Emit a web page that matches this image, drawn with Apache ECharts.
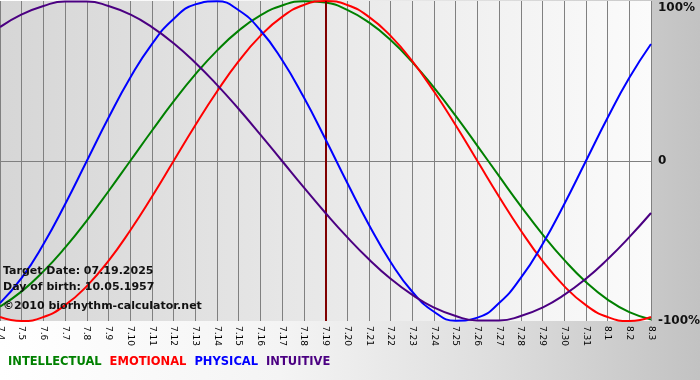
<!DOCTYPE html>
<html>
<head>
<meta charset="utf-8">
<script src="https://cdn.jsdelivr.net/npm/echarts@6/dist/echarts.min.js"></script>
<style>
html,body{margin:0;padding:0;}
#chart{width:700px;height:380px;background:linear-gradient(to right,#ffffff 0%,#f4f4f4 40%,#dedede 70%,#c2c2c2 100%);}
</style>
</head>
<body>
<div id="chart"></div>
<script>
var days = ['7.4','7.5','7.6','7.7','7.8','7.9','7.10','7.11','7.12','7.13','7.14','7.15','7.16','7.17','7.18','7.19','7.20','7.21','7.22','7.23','7.24','7.25','7.26','7.27','7.28','7.29','7.30','7.31','8.1','8.2','8.3'];
var intellectual = [-91.0,-81.5,-69.0,-54.1,-37.2,-18.9,0,18.9,37.2,54.1,69.0,81.5,91.0,97.2,99.9,99.0,94.5,86.6,75.6,61.8,45.8,28.2,9.5,-9.5,-28.2,-45.8,-61.8,-75.6,-86.6,-94.5,-99.0];
var emotional = [-97.5,-100,-97.5,-90.1,-78.2,-62.4,-43.4,-22.3,0,22.3,43.4,62.4,78.2,90.1,97.5,100,97.5,90.1,78.2,62.4,43.4,22.3,0,-22.3,-43.4,-62.4,-78.2,-90.1,-97.5,-100,-97.5];
var physical = [-88.8,-73.1,-52.0,-27.0,0,27.0,52.0,73.1,88.8,97.9,99.8,94.2,81.7,63.1,39.8,13.6,-13.6,-39.8,-63.1,-81.7,-94.2,-99.8,-97.9,-88.8,-73.1,-52.0,-27.0,0,27.0,52.0,73.1];
var intuitive = [83.7,91.6,96.9,99.7,99.7,96.9,91.6,83.7,73.6,61.4,47.6,32.5,16.5,0,-16.5,-32.5,-47.6,-61.4,-73.6,-83.7,-91.6,-96.9,-99.7,-99.7,-96.9,-91.6,-83.7,-73.6,-61.4,-47.6,-32.5];
var targetDay = '7.19';
var yTicks = {'100':'{top|100%}','0':'0','-100':'-100%'};
var names = ['INTELLECTUAL','EMOTIONAL','PHYSICAL','INTUITIVE'];
var colors = ['#008000','#ff0000','#0000ff','#4b0082'];
var infoLines = ['Target Date: 07.19.2025','Day of birth: 10.05.1957','©2010 biorhythm-calculator.net'];

var FONT = '"DejaVu Sans", Verdana, sans-serif';
var chart = echarts.init(document.getElementById('chart'), null, {renderer:'canvas'});
var seriesData = [intellectual, emotional, physical, intuitive];
var series = names.map(function(n, i){
  var s = {
    name: n, type: 'line', data: seriesData[i], smooth: 0.5, symbol: 'none',
    lineStyle: {color: colors[i], width: 2}, itemStyle: {color: colors[i]},
    z: 3 + i
  };
  if (i === 0) {
    s.markLine = {
      silent: true, symbol: 'none', animation: false,
      label: {show: false},
      lineStyle: {color: '#800000', width: 2, type: 'solid'},
      data: [{xAxis: targetDay}]
    };
  }
  return s;
});

chart.setOption({
  animation: false,
  grid: {
    left: 0, right: 49, top: 1, bottom: 59, show: true, borderWidth: 0,
    outerBoundsMode: 'none', containLabel: false,
    backgroundColor: {type:'linear', x:0, y:0, x2:1, y2:0,
      colorStops:[{offset:0,color:'#d6d6d6'},{offset:1,color:'#fbfbfb'}]}
  },
  legend: {
    left: 3, top: 356, padding: 0, icon: 'none', itemWidth: 0, itemHeight: 0, itemGap: 3,
    selectedMode: false,
    textStyle: {fontFamily: FONT, fontWeight: 'bold', fontSize: 11.5},
    data: names.map(function(n, i){ return {name: n, textStyle: {color: colors[i]}}; })
  },
  xAxis: {
    type: 'category', data: days, boundaryGap: false,
    axisLine: {show: true, lineStyle: {color: '#808080', width: 1}},
    axisTick: {show: true, interval: 0, length: 3, lineStyle: {color: '#808080'}},
    splitLine: {show: true, interval: 0, lineStyle: {color: '#808080', width: 1}},
    axisLabel: {interval: 0, rotate: -90, margin: 5, color: '#000',
      fontFamily: FONT, fontSize: 9, showMinLabel: true, showMaxLabel: true}
  },
  yAxis: {
    type: 'value', position: 'right', min: -100, max: 100, interval: 100,
    axisLine: {show: false}, axisTick: {show: false},
    splitLine: {show: true, lineStyle: {color: ['transparent','#808080','transparent'], width: 1}},
    axisLabel: {margin: 7, color: '#111', fontFamily: FONT, fontWeight: 'bold', fontSize: 12,
      rich: {top: {padding: [13, 0, 0, 0], color: '#111', fontFamily: FONT, fontWeight: 'bold', fontSize: 12}},
      formatter: function(v){ return yTicks[String(v)] || ''; }}
  },
  graphic: infoLines.map(function(t, i){
    return {type: 'text', left: 3, top: [266, 282, 301][i], z: 100,
      style: {text: t, fill: '#111', font: 'bold 11px ' + FONT}};
  }),
  series: series
});
</script>
</body>
</html>
